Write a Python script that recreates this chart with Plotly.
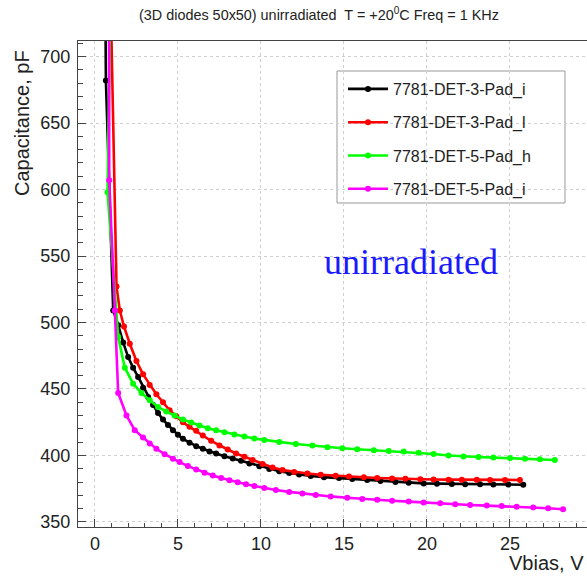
import plotly.graph_objects as go

# ---------------- data ----------------
names = ["7781-DET-3-Pad_i", "7781-DET-3-Pad_l", "7781-DET-5-Pad_h", "7781-DET-5-Pad_i"]
colors = ["#000000", "#ff0000", "#00ff00", "#ff00ff"]

v_det3_i = [0.62, 0.66, 1.1, 1.4, 1.7, 2.0, 2.3, 2.6, 2.9, 3.2, 3.5, 3.8, 4.1, 4.4, 4.7, 5.0, 5.3,
            5.7, 6.1, 6.5, 6.9, 7.3, 7.8, 8.3, 8.8, 9.3, 9.9, 10.5, 11.1, 11.7, 12.3, 13.0, 13.8,
            14.7, 15.5, 16.4, 17.2, 18.1, 18.9, 19.8, 20.6, 21.5, 22.3, 23.2, 24.0, 24.9, 25.8]
c_det3_i = [760, 682, 509, 498, 485, 474, 466, 459, 451, 444, 438, 432, 427, 423, 419, 415.5, 412.5,
            409.5, 407, 405, 403, 401.5, 399.5, 397.8, 396, 394, 391.8, 389.8, 388.2, 386.9, 385.6,
            384.5, 383.7, 383, 382.3, 381.5, 380.8, 380.1, 379.5, 379, 378.8, 378.6, 378.4, 378.3,
            378.2, 378.1, 378.0]

v_det3_l = [0.92, 1.3, 1.5, 1.75, 2.1, 2.5, 2.9, 3.3, 3.7, 4.1, 4.5, 4.9, 5.3, 5.7, 6.1, 6.5,
            7.0, 7.5, 8.0, 8.5, 9.0, 9.5, 10.1, 10.7, 11.3, 12.0, 12.8, 13.6, 14.5, 15.3, 16.2,
            17.0, 17.9, 18.7, 19.6, 20.4, 21.3, 22.1, 23.0, 23.8, 24.7, 25.6]
c_det3_l = [760, 527, 509, 497, 484, 471, 461, 453, 446, 440, 434, 429.5, 425, 421.5, 418.5,
            415, 411, 407.5, 404.5, 401.5, 399, 396.5, 393.5, 391, 389, 387.6, 386.4, 385.5, 384.7,
            384.1, 383.6, 383.1, 382.7, 382.4, 382.1, 381.9, 381.8, 381.7, 381.7, 381.6, 381.6, 381.6]

v_det5_h = [0.95, 0.76, 1.4, 1.8, 2.3, 2.8, 3.3, 3.8, 4.3, 4.8, 5.3, 5.8, 6.3, 6.8, 7.3, 7.8, 8.4,
            9.0, 9.6, 10.2, 11.1, 12.1, 13.1, 14.0, 14.9, 15.8, 16.8, 17.7, 18.6, 19.5, 20.4, 21.3,
            22.2, 23.1, 24.0, 25.0, 25.9, 26.8, 27.7]
c_det5_h = [760, 598, 489, 466, 454, 447, 441.5, 436.5, 433, 430, 427, 424.8, 422.5, 420.5, 419,
            417.5, 415.8, 414.2, 412.8, 411.6, 410.2, 408.6, 407.4, 406.2, 405.4, 404.7, 404,
            403.4, 402.9, 402.1, 401.1, 400, 399.2, 398.8, 398.4, 398, 397.5, 397.2, 396.6]

v_det5_i = [0.85, 0.86, 1.2, 1.4, 1.9, 2.4, 2.9, 3.3, 3.7, 4.2, 4.7, 5.1, 5.6, 6.1, 6.6, 7.1, 7.6,
            8.1, 8.6, 9.1, 9.6, 10.2, 10.9, 11.7, 12.5, 13.3, 14.2, 15.2, 16.1, 17.0, 17.9, 18.9,
            19.8, 20.8, 21.7, 22.6, 23.6, 24.5, 25.4, 26.4, 27.3, 28.2]
c_det5_i = [760, 607, 509, 447, 430, 419, 413.5, 409, 405, 401, 397.5, 395, 392, 389.5, 387, 385,
            383, 381.3, 379.8, 378.3, 377, 375.5, 374, 372.6, 371.4, 370.3, 369.2, 368.2, 367.3,
            366.6, 365.9, 365.3, 364.6, 364, 363.4, 362.8, 362.3, 361.9, 361.4, 360.9, 360.3, 359.6]

xs = [v_det3_i, v_det3_l, v_det5_h, v_det5_i]
ys = [c_det3_i, c_det3_l, c_det5_h, c_det5_i]

title_text = "(3D diodes 50x50) unirradiated  T = +20<sup>0</sup>C Freq = 1 KHz"
x_title = "Vbias, V"
y_title = "Capacitance, pF"
label_text = "unirradiated"

# ---------------- figure ----------------
FONT = "Liberation Sans, Arial, Helvetica, sans-serif"
fig = go.Figure()
for i in range(4):
    fig.add_trace(go.Scatter(
        x=xs[i], y=ys[i], name=names[i], mode="lines+markers",
        legendgroup=f"g{i}",
        line=dict(color=colors[i], width=2.6),
        marker=dict(color=colors[i], size=6, symbol="circle"),
    ))

axis_common = dict(
    showline=True, linecolor="#444", linewidth=1, mirror=True,
    ticks="inside", ticklen=8, tickcolor="#444", tickwidth=1,
    showgrid=True, gridcolor="#cfcfcf", gridwidth=1, griddash="3px,3px",
    zeroline=False,
    tickfont=dict(family=FONT, size=18, color="#222"),
)

fig.update_layout(
    width=587, height=577,
    margin=dict(l=78, r=0, t=41, b=50),
    paper_bgcolor="white", plot_bgcolor="white",
    font=dict(family=FONT, color="#222"),
    title=dict(text=title_text, x=0.5434, xref="container", xanchor="center",
               y=1 - 15 / 577, yref="container", yanchor="middle",
               font=dict(family=FONT, size=14.4, color="#222")),
    xaxis=dict(range=[-1.02, 29.64], tick0=0, dtick=5,
               minor=dict(dtick=1, ticks="inside", ticklen=4, tickcolor="#444", showgrid=False),
               **axis_common),
    yaxis=dict(range=[346.2, 711.7], tick0=0, dtick=50,
               minor=dict(dtick=10, ticks="inside", ticklen=5, tickcolor="#444", showgrid=False),
               ticklabelstandoff=3,
               **axis_common),
    showlegend=True,
    legend=dict(x=(343 - 78) / 509, y=(527 - 72) / 486, xanchor="left", yanchor="top",
                bgcolor="rgba(0,0,0,0)", borderwidth=0,
                font=dict(family=FONT, size=16, color="#222"),
                tracegroupgap=9.5, traceorder="grouped", itemwidth=40),
    shapes=[dict(type="rect", xref="paper", yref="paper",
                 x0=(337 - 78) / 509, x1=(565 - 78) / 509,
                 y0=(527 - 203) / 486, y1=(527 - 71) / 486,
                 line=dict(color="#999", width=1), fillcolor="white", layer="between")],
    annotations=[
        dict(text=y_title, xref="paper", yref="paper", x=0, xshift=-56,
             y=(527 - 123) / 486, xanchor="center", yanchor="middle", textangle=-90,
             showarrow=False, font=dict(family=FONT, size=20, color="#222")),
        dict(text=x_title, xref="paper", yref="paper", x=1, xshift=-1,
             y=(527 - 563) / 486, xanchor="right", yanchor="middle",
             showarrow=False, font=dict(family=FONT, size=20, color="#222")),
        dict(text=label_text, xref="paper", yref="paper", x=(410.5 - 78) / 509,
             y=(527 - 262) / 486, xanchor="center", yanchor="middle",
             showarrow=False, font=dict(family="Liberation Serif, Times New Roman, serif",
                                        size=36, color="#1a1aff")),
    ],
)

fig.write_html("out.html")
